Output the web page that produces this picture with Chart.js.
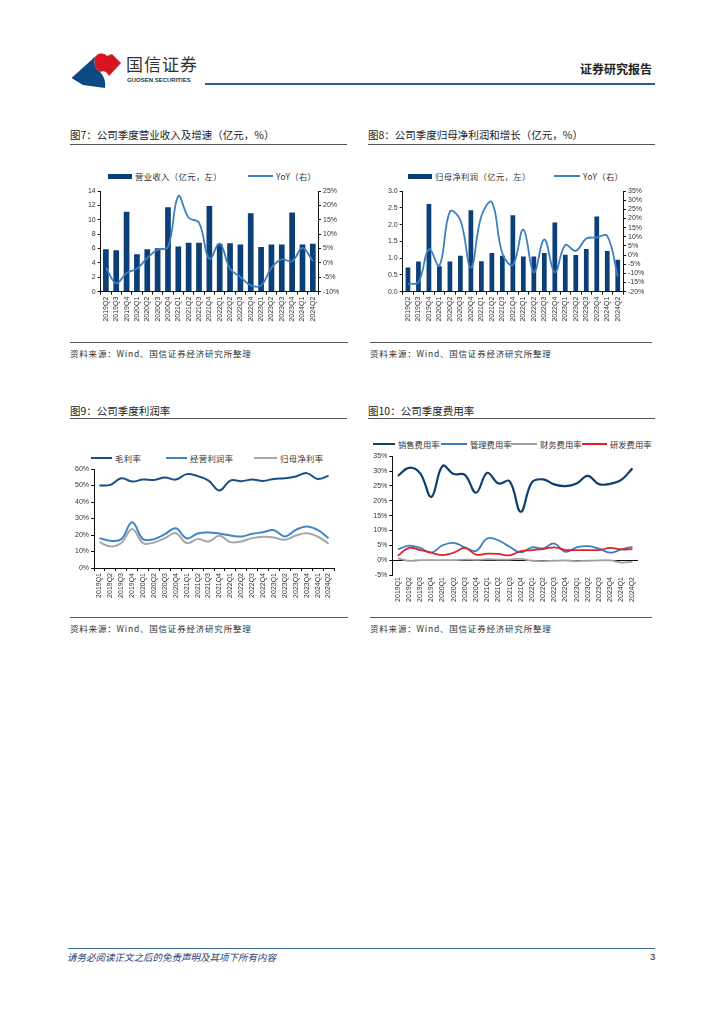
<!DOCTYPE html>
<html>
<head>
<meta charset="utf-8">
<script src="https://cdn.jsdelivr.net/npm/chart.js@4.4.1/dist/chart.umd.min.js"></script>
<style>
body{margin:0;background:#fff;width:724px;height:1024px;position:relative;font-family:"Noto Sans CJK SC",sans-serif;color:#222;overflow:hidden}
.abs{position:absolute;white-space:nowrap}
.title{font-size:10.5px;line-height:12px}
.rule{height:1px;background:#555}
.src{font-size:8.5px;line-height:10px;color:#333;letter-spacing:0.8px}
.leg{position:absolute;font-size:8.3px;line-height:10px;white-space:nowrap;display:flex;align-items:center;color:#333;letter-spacing:0.4px}
.leg i{display:inline-block;margin-right:3px}
canvas{position:absolute}
</style>
</head>
<body>

<!-- 页眉 -->
<svg class="abs" style="left:0;top:0" width="200" height="100">
  <path d="M71.5,78 L97,55 C92,62 95,68 100,72 C104,76 106,82 105,88 L83,85 Z" fill="#0d4a83"/>
  <path d="M97,55 C100,53 104,53 107,56 L112,54 L121,63 L109,76 C107,72 104,70 100,72 C95,68 92,62 97,55 Z" fill="#d7141f"/>
</svg>
<div class="abs" style="left:126px;top:54px;font-size:17px;line-height:20px;color:#333;letter-spacing:1px">国信证券</div>
<div class="abs" style="left:127px;top:77px;font-size:6px;line-height:7px;font-weight:bold;color:#333;font-family:'Liberation Sans'">GUOSEN SECURITIES</div>
<div class="abs" style="left:580px;top:62px;font-size:12px;line-height:14px;font-weight:bold;color:#222">证券研究报告</div>
<div class="abs" style="left:205px;top:83px;width:450px;height:2px;background:#2d5d90"></div>

<!-- 图7 -->
<div class="abs title" style="left:70px;top:129px">图7：公司季度营业收入及增速（亿元，%）</div>
<div class="abs rule" style="left:70px;top:144px;width:277px"></div>
<div class="leg" style="left:108px;top:171px"><i style="width:24px;height:5px;background:#0b3f75"></i>营业收入（亿元，左）</div>
<div class="leg" style="left:248px;top:171px"><i style="width:25px;height:2px;background:#3b7fc1"></i>YoY（右）</div>
<canvas id="c1" width="292" height="150" style="left:62px;top:183px"></canvas>
<div class="abs rule" style="left:70px;top:342px;width:278px"></div>
<div class="abs src" style="left:70px;top:348px">资料来源：Wind、国信证券经济研究所整理</div>

<!-- 图8 -->
<div class="abs title" style="left:368px;top:129px">图8：公司季度归母净利润和增长（亿元，%）</div>
<div class="abs rule" style="left:368px;top:144px;width:287px"></div>
<div class="leg" style="left:408px;top:171px"><i style="width:24px;height:5px;background:#0b3f75"></i>归母净利润（亿元，左）</div>
<div class="leg" style="left:554px;top:171px"><i style="width:26px;height:2px;background:#3b7fc1"></i>YoY（右）</div>
<canvas id="c2" width="292" height="150" style="left:362px;top:183px"></canvas>
<div class="abs rule" style="left:370px;top:342px;width:282px"></div>
<div class="abs src" style="left:370px;top:348px">资料来源：Wind、国信证券经济研究所整理</div>

<!-- 图9 -->
<div class="abs title" style="left:70px;top:405px">图9：公司季度利润率</div>
<div class="abs rule" style="left:70px;top:418px;width:277px"></div>
<div class="leg" style="left:91px;top:453px"><i style="width:21px;height:2px;background:#1b4f86"></i>毛利率</div>
<div class="leg" style="left:166px;top:453px"><i style="width:21px;height:2px;background:#3f86c8"></i>经营利润率</div>
<div class="leg" style="left:254px;top:453px"><i style="width:23px;height:2px;background:#a6a6a6"></i>归母净利率</div>
<canvas id="c3" width="292" height="150" style="left:62px;top:462px"></canvas>
<div class="abs rule" style="left:70px;top:617px;width:278px"></div>
<div class="abs src" style="left:70px;top:623px">资料来源：Wind、国信证券经济研究所整理</div>

<!-- 图10 -->
<div class="abs title" style="left:368px;top:405px">图10：公司季度费用率</div>
<div class="abs rule" style="left:368px;top:418px;width:287px"></div>
<div class="leg" style="left:373px;top:439px;letter-spacing:0"><i style="width:22px;height:2px;background:#0e3f6e"></i>销售费用率</div>
<div class="leg" style="left:441px;top:439px;letter-spacing:0"><i style="width:26px;height:2px;background:#3b7fc0"></i>管理费用率</div>
<div class="leg" style="left:511px;top:439px;letter-spacing:0"><i style="width:26px;height:2px;background:#a0a0a0"></i>财务费用率</div>
<div class="leg" style="left:582px;top:439px;letter-spacing:0"><i style="width:25px;height:2px;background:#e0202a"></i>研发费用率</div>
<canvas id="c4" width="292" height="165" style="left:362px;top:450px"></canvas>
<div class="abs rule" style="left:370px;top:617px;width:282px"></div>
<div class="abs src" style="left:370px;top:623px">资料来源：Wind、国信证券经济研究所整理</div>

<!-- 页脚 -->
<div class="abs" style="left:68px;top:948px;width:587px;height:1px;background:#3b6a9a"></div>
<div class="abs" style="left:67px;top:951px;font-size:9.5px;line-height:12px;font-style:italic;color:#1f3f7a">请务必阅读正文之后的免责声明及其项下所有内容</div>
<div class="abs" style="left:650px;top:951px;font-size:9.5px;line-height:12px;color:#222;font-family:'Liberation Sans'">3</div>

<script>
// 季度标签
const quartersA = ['2019Q2','2019Q3','2019Q4','2020Q1','2020Q2','2020Q3','2020Q4','2021Q1','2021Q2','2021Q3','2021Q4',
  '2022Q1','2022Q2','2022Q3','2022Q4','2023Q1','2023Q2','2023Q3','2023Q4','2024Q1','2024Q2'];
const quartersB = ['2019Q1','2019Q2','2019Q3','2019Q4','2020Q1','2020Q2','2020Q3','2020Q4','2021Q1','2021Q2','2021Q3','2021Q4',
  '2022Q1','2022Q2','2022Q3','2022Q4','2023Q1','2023Q2','2023Q3','2023Q4','2024Q1','2024Q2'];

// 图7 营业收入（亿元）及同比（%）
const revenue = [5.9, 5.75, 11.1, 5.2, 5.9, 6.05, 11.75, 6.3, 6.8, 6.8, 11.9, 6.65, 6.75, 6.55, 10.9, 6.2, 6.55, 6.55, 11.0, 6.55, 6.65];
const revenueYoy = [-1.7, -7, -3.5, -2, 1.7, 4.6, 5.5, 23.2, 15.7, 14, 1.4, 6.7, -2, -4.9, -7.8, -7.8, -1.7, 1.2, 0.6, 5.2, 0.6];

// 图8 归母净利润（亿元）及同比（%）
const netProfit = [0.72, 0.90, 2.61, 0.76, 0.90, 1.07, 2.43, 0.91, 1.15, 1.07, 2.28, 1.05, 1.05, 1.15, 2.06, 1.10, 1.09, 1.27, 2.24, 1.21, 0.95];
const netProfitYoy = [-15.7, -14.8, 3.2, -5.8, 23.8, 19, -6.9, 21.3, 28.9, 1, -5.4, 13.9, -9.4, 8.5, -9.4, 5.4, 2.3, 9, 9.6, 10.5, -11.7];

// 图9 利润率（%）
const grossMargin = [50, 50.4, 54.4, 52.4, 53.6, 53.4, 54.8, 53.6, 56.9, 55.7, 53, 47, 53, 52.6, 53.6, 52.8, 54, 54.4, 55.5, 57.5, 54, 55.9];
const operatingMargin = [18.1, 16.5, 17.5, 27.8, 17.5, 17.5, 20.5, 24.1, 17.9, 20.9, 21.5, 20.9, 19.7, 19.1, 20.7, 21.7, 22.9, 19.1, 23.1, 25.2, 23.1, 18.1];
const netMargin = [15.7, 13.1, 15.1, 23.7, 15.1, 15.5, 18.1, 21.1, 15.1, 17.5, 16.1, 19.5, 15.7, 16.1, 18.1, 18.9, 18.5, 17.1, 19.7, 21.1, 19.1, 14.7];

// 图10 费用率（%）
const salesRate = [28.4, 31.1, 29.2, 21.3, 31.7, 29, 28.7, 22.7, 29.4, 25.8, 26.6, 16.3, 26.2, 27.2, 25.5, 24.9, 25.8, 28.4, 25.6, 25.7, 27, 30.9];
const adminRate = [3.6, 4.9, 4.1, 2.5, 5.0, 5.8, 4.3, 3.1, 7.3, 6.7, 4.5, 2.6, 4.3, 4.0, 5.6, 2.8, 4.3, 4.7, 3.9, 2.5, 3.6, 4.5];
const financeRate = [0.6, -0.2, 0, 0, 0, 0, 0.2, 0.1, 0.3, 0.2, 0.2, 0.4, -0.2, -0.3, -0.2, -0.1, -0.3, -0.2, -0.1, -0.1, -0.8, -0.5];
const rdRate = [1.5, 4.1, 3.4, 2.5, 1.7, 2.5, 4.1, 1.9, 2.2, 2.1, 1.6, 3.0, 3.4, 3.7, 4.3, 3.4, 3.4, 3.4, 3.4, 4.1, 3.6, 3.7];

const tickFont = { family: 'Liberation Sans', size: 7 };
const tickColor = '#333';
const axisColor = '#111';
const pct = v => v + '%';

function xAxis(h) {
  return {
    offset: true,
    grid: { drawOnChartArea: false, offset: true, tickLength: 3, color: axisColor },
    border: { color: axisColor },
    ticks: { font: tickFont, color: tickColor, minRotation: 90, maxRotation: 90, autoSkip: false, padding: 2 },
    afterFit: s => { s.height = h; }
  };
}
function yAxis(pos, w, min, max, step, cb) {
  return {
    position: pos, min: min, max: max,
    grid: { drawOnChartArea: false, tickLength: 3, color: axisColor },
    border: { color: axisColor },
    ticks: { stepSize: step, autoSkip: false, font: tickFont, color: tickColor, padding: 2, callback: cb },
    afterFit: s => { s.width = w; }
  };
}
const baseOpts = {
  animation: false, responsive: false,
  plugins: { legend: { display: false }, tooltip: { enabled: false } }
};

// 图7
new Chart(document.getElementById('c1'), {
  type: 'bar',
  data: {
    labels: quartersA,
    datasets: [
      { type: 'line', data: revenueYoy, yAxisID: 'y1', borderColor: '#3b7fc1', borderWidth: 1.8, pointRadius: 0, tension: 0.4, order: 0 },
      { type: 'bar', data: revenue, yAxisID: 'y', backgroundColor: '#0b3f75', barPercentage: 0.55, categoryPercentage: 1, order: 1 }
    ]
  },
  options: Object.assign({}, baseOpts, {
    layout: { padding: { top: 8, left: 0, right: 0, bottom: 0 } },
    scales: {
      x: xAxis(41.3),
      y: yAxis('left', 38.7, 0, 14, 2, v => v),
      y1: yAxis('right', 36, -10, 25, 5, pct)
    }
  })
});

// 图8
new Chart(document.getElementById('c2'), {
  type: 'bar',
  data: {
    labels: quartersA,
    datasets: [
      { type: 'line', data: netProfitYoy, yAxisID: 'y1', borderColor: '#3b7fc1', borderWidth: 1.8, pointRadius: 0, tension: 0.4, order: 0 },
      { type: 'bar', data: netProfit, yAxisID: 'y', backgroundColor: '#0b3f75', barPercentage: 0.45, categoryPercentage: 1, order: 1 }
    ]
  },
  options: Object.assign({}, baseOpts, {
    layout: { padding: { top: 8, left: 0, right: 0, bottom: 0 } },
    scales: {
      x: xAxis(41.3),
      y: yAxis('left', 40.7, 0, 3, 0.5, v => v.toFixed(1)),
      y1: yAxis('right', 31, -20, 35, 5, pct)
    }
  })
});

// 图9
new Chart(document.getElementById('c3'), {
  type: 'line',
  data: {
    labels: quartersB,
    datasets: [
      { data: grossMargin, borderColor: '#1b4f86', borderWidth: 2, pointRadius: 0, tension: 0.4 },
      { data: operatingMargin, borderColor: '#3f86c8', borderWidth: 2, pointRadius: 0, tension: 0.4 },
      { data: netMargin, borderColor: '#a6a6a6', borderWidth: 2, pointRadius: 0, tension: 0.4 }
    ]
  },
  options: Object.assign({}, baseOpts, {
    layout: { padding: { top: 7, left: 0, right: 20, bottom: 0 } },
    scales: {
      x: xAxis(44),
      y: yAxis('left', 32, 0, 60, 10, pct)
    }
  })
});

// 图10：横轴画在0%处，标签放在图底
const x4 = xAxis(40);
x4.border = { display: false };
x4.grid = { drawOnChartArea: false, drawTicks: false };
const y4 = yAxis('left', 30.3, -5, 35, 5, pct);
y4.grid = {
  drawOnChartArea: true, tickLength: 3, tickColor: axisColor,
  color: ctx => (ctx.tick && ctx.tick.value === 0) ? axisColor : 'rgba(0,0,0,0)'
};
new Chart(document.getElementById('c4'), {
  type: 'line',
  data: {
    labels: quartersB,
    datasets: [
      { data: rdRate, borderColor: '#e0202a', borderWidth: 1.8, pointRadius: 0, tension: 0.4 },
      { data: salesRate, borderColor: '#0e3f6e', borderWidth: 2.2, pointRadius: 0, tension: 0.4 },
      { data: adminRate, borderColor: '#3b7fc0', borderWidth: 1.8, pointRadius: 0, tension: 0.4 },
      { data: financeRate, borderColor: '#a0a0a0', borderWidth: 1.8, pointRadius: 0, tension: 0.4 }
    ]
  },
  options: Object.assign({}, baseOpts, {
    layout: { padding: { top: 6, left: 0, right: 16, bottom: 0 } },
    scales: { x: x4, y: y4 }
  })
});
</script>
</body>
</html>
